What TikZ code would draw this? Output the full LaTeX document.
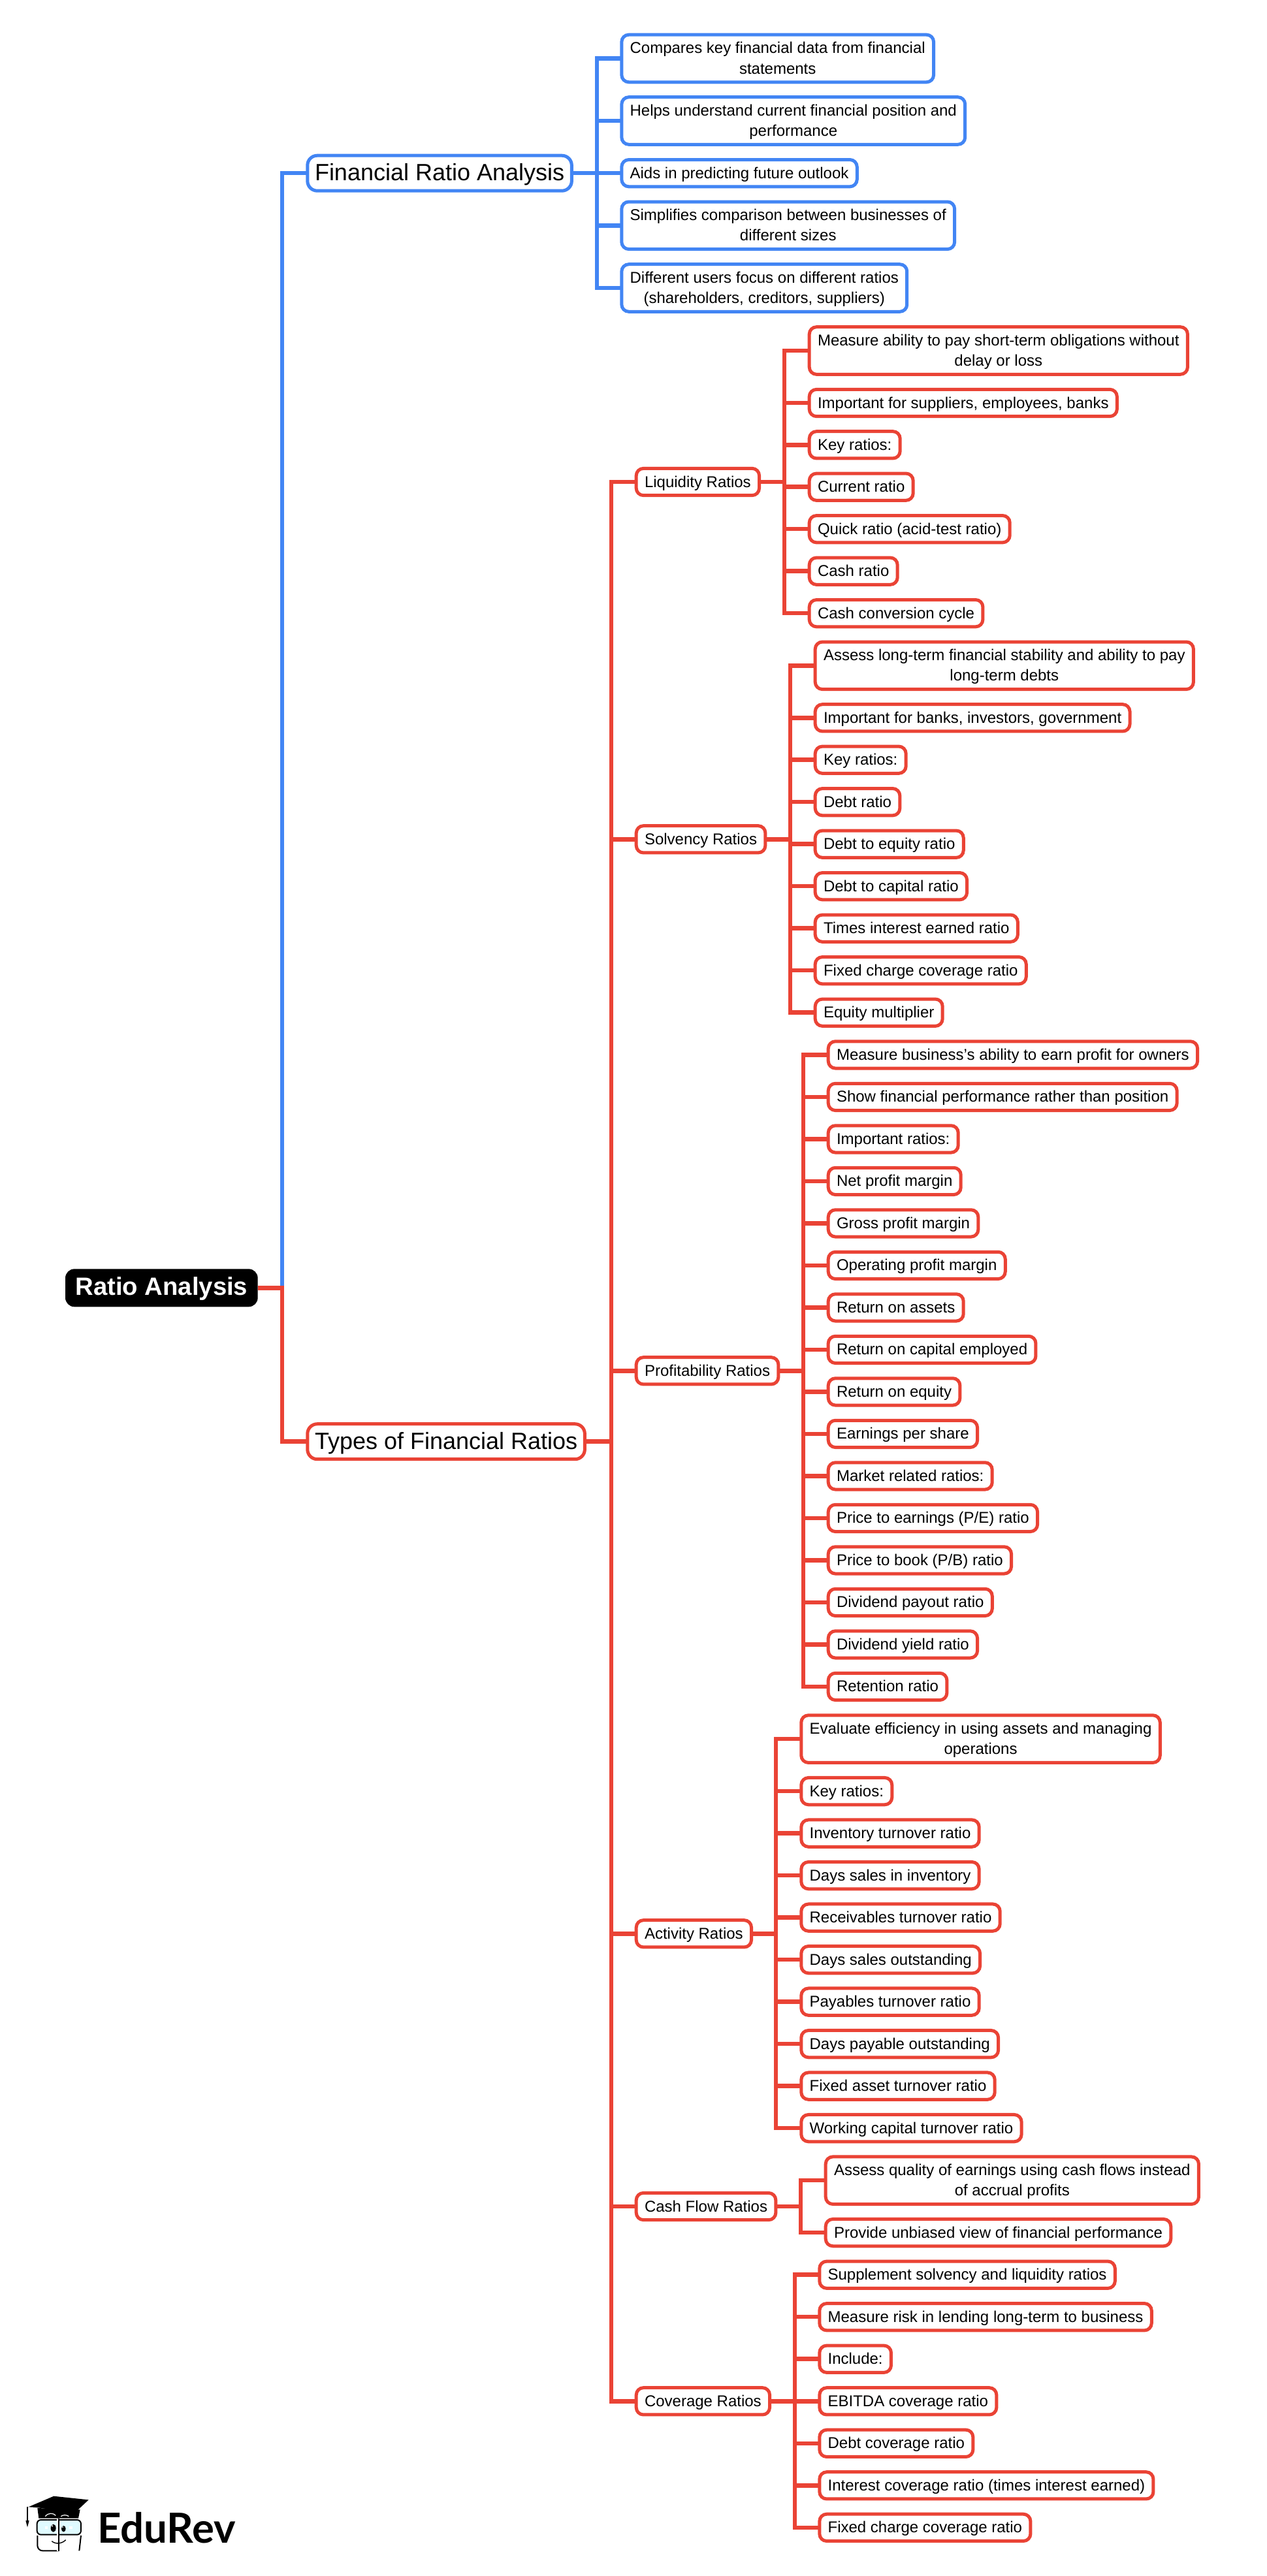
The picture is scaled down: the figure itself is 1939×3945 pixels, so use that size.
\documentclass[tikz,border=0pt]{standalone}
\usepackage{fontspec}
\setmainfont{Liberation Sans}
\newfontfamily\logofont{Lato}
\definecolor{bluec}{HTML}{4285F4}
\definecolor{redc}{HTML}{EA4335}
\newcommand{\st}{\rule[-7.65pt]{0pt}{31.3pt}}
\newcommand{\stb}{\rule[-8.5pt]{0pt}{40pt}}
\newcommand{\str}{\rule[-6pt]{0pt}{36pt}}
\tikzset{
  x=1pt,y=-1pt,
  box/.style={draw,fill=white,line width=5pt,rounded corners=11pt,outer sep=0pt,anchor=west,
    inner xsep=12.8pt,inner ysep=5pt,align=center,font=\fontsize{24}{31.3}\selectfont},
  big/.style={box,rounded corners=15pt,inner xsep=11.2pt,inner ysep=7pt,font=\fontsize{36}{40}\selectfont},
  rootbox/.style={fill=black,text=white,rounded corners=14pt,outer sep=0pt,anchor=center,
    minimum width=294.7pt,minimum height=58pt,inner sep=0pt,font=\fontsize{38.3}{40}\selectfont\bfseries},
  vl/.style={line width=6pt,line cap=rect},
  hl/.style={line width=6.5pt},
  logotext/.style={anchor=base west,inner sep=0pt,outer sep=0pt,font=\logofont\fontsize{63.5}{64}\selectfont\bfseries}
}
\newcommand{\lf}[5]{\node[box,draw=#5] (#1) at (#2+2.5,#3) {\st #4};}
\newcommand{\conn}[4]{%
  \path (#3,0) coordinate (tmpx);
  \draw[hl,#4] (#1.east) -- (tmpx |- #1.east);
  \draw[vl,#4] (tmpx |- #1.east) -- (tmpx |- #2.west);
  \draw[hl,#4,shorten <=-3pt] (tmpx |- #2.west) -- (#2.west);
}
\begin{document}
\begin{tikzpicture}
\useasboundingbox[fill=white] (0,0) rectangle (1939,3945);
% root and level 1
\node[rootbox] (root) at (247.35,1972.3) {\str Ratio Analysis};
\node[big,draw=bluec] (fin) at (470.8,265.2) {\stb Financial Ratio Analysis};
\node[big,draw=redc] (typ) at (470.8,2207.7) {\stb Types of Financial Ratios};
% blue leaves
\lf{b1}{949.3}{89.5}{Compares key financial data from financial\\\st statements}{bluec}
\lf{b2}{949.3}{185}{Helps understand current financial position and\\\st performance}{bluec}
\lf{b3}{949.3}{265.2}{Aids in predicting future outlook}{bluec}
\lf{b4}{949.3}{345.3}{Simplifies comparison between businesses of\\\st different sizes}{bluec}
\lf{b5}{949.3}{441}{Different users focus on different ratios\\\st (shareholders, creditors, suppliers)}{bluec}
% level 2
\lf{liq}{971.7}{738}{Liquidity Ratios}{redc}
\lf{sol}{971.7}{1285.3}{Solvency Ratios}{redc}
\lf{pro}{971.7}{2099.3}{Profitability Ratios}{redc}
\lf{act}{971.7}{2961.3}{Activity Ratios}{redc}
\lf{cas}{971.7}{3379}{Cash Flow Ratios}{redc}
\lf{cov}{971.7}{3677.3}{Coverage Ratios}{redc}
% liquidity
\lf{l1}{1236.7}{537}{Measure ability to pay short-term obligations without\\\st delay or loss}{redc}
\lf{l2}{1236.7}{617}{Important for suppliers, employees, banks}{redc}
\lf{l3}{1236.7}{681.3}{Key ratios:}{redc}
\lf{l4}{1236.7}{745.7}{Current ratio}{redc}
\lf{l5}{1236.7}{810.2}{Quick ratio (acid-test ratio)}{redc}
\lf{l6}{1236.7}{874.7}{Cash ratio}{redc}
\lf{l7}{1236.7}{939.2}{Cash conversion cycle}{redc}
% solvency
\lf{s1}{1245.7}{1019.3}{Assess long-term financial stability and ability to pay\\\st long-term debts}{redc}
\lf{s2}{1245.7}{1099.3}{Important for banks, investors, government}{redc}
\lf{s3}{1245.7}{1163.7}{Key ratios:}{redc}
\lf{s4}{1245.7}{1228.2}{Debt ratio}{redc}
\lf{s5}{1245.7}{1292.7}{Debt to equity ratio}{redc}
\lf{s6}{1245.7}{1357.2}{Debt to capital ratio}{redc}
\lf{s7}{1245.7}{1421.7}{Times interest earned ratio}{redc}
\lf{s8}{1245.7}{1486.2}{Fixed charge coverage ratio}{redc}
\lf{s9}{1245.7}{1550.7}{Equity multiplier}{redc}
% profitability
\lf{p1}{1265.7}{1615.4}{Measure business's ability to earn profit for owners}{redc}
\lf{p2}{1265.7}{1679.9}{Show financial performance rather than position}{redc}
\lf{p3}{1265.7}{1744.4}{Important ratios:}{redc}
\lf{p4}{1265.7}{1808.9}{Net profit margin}{redc}
\lf{p5}{1265.7}{1873.4}{Gross profit margin}{redc}
\lf{p6}{1265.7}{1937.9}{Operating profit margin}{redc}
\lf{p7}{1265.7}{2002.4}{Return on assets}{redc}
\lf{p8}{1265.7}{2066.9}{Return on capital employed}{redc}
\lf{p9}{1265.7}{2131.4}{Return on equity}{redc}
\lf{p10}{1265.7}{2195.9}{Earnings per share}{redc}
\lf{p11}{1265.7}{2260.4}{Market related ratios:}{redc}
\lf{p12}{1265.7}{2324.9}{Price to earnings (P/E) ratio}{redc}
\lf{p13}{1265.7}{2389.4}{Price to book (P/B) ratio}{redc}
\lf{p14}{1265.7}{2453.9}{Dividend payout ratio}{redc}
\lf{p15}{1265.7}{2518.4}{Dividend yield ratio}{redc}
\lf{p16}{1265.7}{2582.9}{Retention ratio}{redc}
% activity
\lf{a1}{1224.3}{2663.1}{Evaluate efficiency in using assets and managing\\\st operations}{redc}
\lf{a2}{1224.3}{2743.1}{Key ratios:}{redc}
\lf{a3}{1224.3}{2807.6}{Inventory turnover ratio}{redc}
\lf{a4}{1224.3}{2872.1}{Days sales in inventory}{redc}
\lf{a5}{1224.3}{2936.6}{Receivables turnover ratio}{redc}
\lf{a6}{1224.3}{3001.1}{Days sales outstanding}{redc}
\lf{a7}{1224.3}{3065.6}{Payables turnover ratio}{redc}
\lf{a8}{1224.3}{3130.1}{Days payable outstanding}{redc}
\lf{a9}{1224.3}{3194.6}{Fixed asset turnover ratio}{redc}
\lf{a10}{1224.3}{3259.1}{Working capital turnover ratio}{redc}
% cash flow
\lf{c1}{1261.7}{3339.2}{Assess quality of earnings using cash flows instead\\\st of accrual profits}{redc}
\lf{c2}{1261.7}{3419.1}{Provide unbiased view of financial performance}{redc}
% coverage
\lf{v1}{1252.3}{3483.7}{Supplement solvency and liquidity ratios}{redc}
\lf{v2}{1252.3}{3548.2}{Measure risk in lending long-term to business}{redc}
\lf{v3}{1252.3}{3612.7}{Include:}{redc}
\lf{v4}{1252.3}{3677.3}{EBITDA coverage ratio}{redc}
\lf{v5}{1252.3}{3741.8}{Debt coverage ratio}{redc}
\lf{v6}{1252.3}{3806.3}{Interest coverage ratio (times interest earned)}{redc}
\lf{v7}{1252.3}{3870.8}{Fixed charge coverage ratio}{redc}
% connectors
\conn{root}{fin}{432}{bluec}
\conn{root}{typ}{432}{redc}
\foreach \c in {b1,b2,b3,b4,b5}{\conn{fin}{\c}{914}{bluec}}
\foreach \c in {liq,sol,pro,act,cas,cov}{\conn{typ}{\c}{936}{redc}}
\foreach \c in {l1,l2,l3,l4,l5,l6,l7}{\conn{liq}{\c}{1201}{redc}}
\foreach \c in {s1,s2,s3,s4,s5,s6,s7,s8,s9}{\conn{sol}{\c}{1210.3}{redc}}
\foreach \c in {p1,p2,p3,p4,p5,p6,p7,p8,p9,p10,p11,p12,p13,p14,p15,p16}{\conn{pro}{\c}{1230.3}{redc}}
\foreach \c in {a1,a2,a3,a4,a5,a6,a7,a8,a9,a10}{\conn{act}{\c}{1188.3}{redc}}
\foreach \c in {c1,c2}{\conn{cas}{\c}{1226}{redc}}
\foreach \c in {v1,v2,v3,v4,v5,v6,v7}{\conn{cov}{\c}{1216.7}{redc}}
% logo
\begin{scope}[shift={(0,3745)},x=0.3333pt,y=-0.3333pt]
  \fill[black] (172,288) -- (368,295) -- (360,335) -- (178,335) -- cycle;
  \draw[white,line width=1.2pt] (208,326) .. controls (222,308) and (245,310) .. (256,322);
  \draw[white,line width=1.2pt] (280,326) .. controls (290,318) and (305,318) .. (316,326);
  \fill[black] (130,283) -- (247,233) -- (407,250) -- (330,322) .. controls (270,300) and (200,285) .. cycle;
  \draw[black,line width=1.4pt] (126,283) -- (126,345);
  \fill[black] (118,345) -- (134,345) -- (126,376) -- cycle;
  \draw[black,line width=2pt,fill=blue!12!cyan!12!white,rounded corners=6pt] (170,342) rectangle (372,410);
  \draw[black,line width=2pt,rounded corners=8pt] (172,414) -- (172,484) -- (268,484);
  \draw[black,line width=2pt,rounded corners=8pt] (372,414) -- (364,484);
  \draw[white,line width=2.4pt] (264,335) -- (264,485);
  \draw[black,line width=1.4pt] (270,335) -- (270,487);
  \fill[black] (245,380) ellipse [x radius=12,y radius=18];
  \fill[black] (292,383) ellipse [x radius=10,y radius=14];
  \fill[white] (240,370) circle (4);
  \fill[white] (288,375) circle (3);
  \fill[white] (207,371) rectangle (220,384);
  \fill[white] (318,371) rectangle (333,384);
  \draw[black,line width=1.4pt] (238,440) .. controls (255,455) and (285,452) .. (302,434);
\end{scope}
\node[logotext] (edurev) at (149,3894) {EduRev};
\end{tikzpicture}
\end{document}
